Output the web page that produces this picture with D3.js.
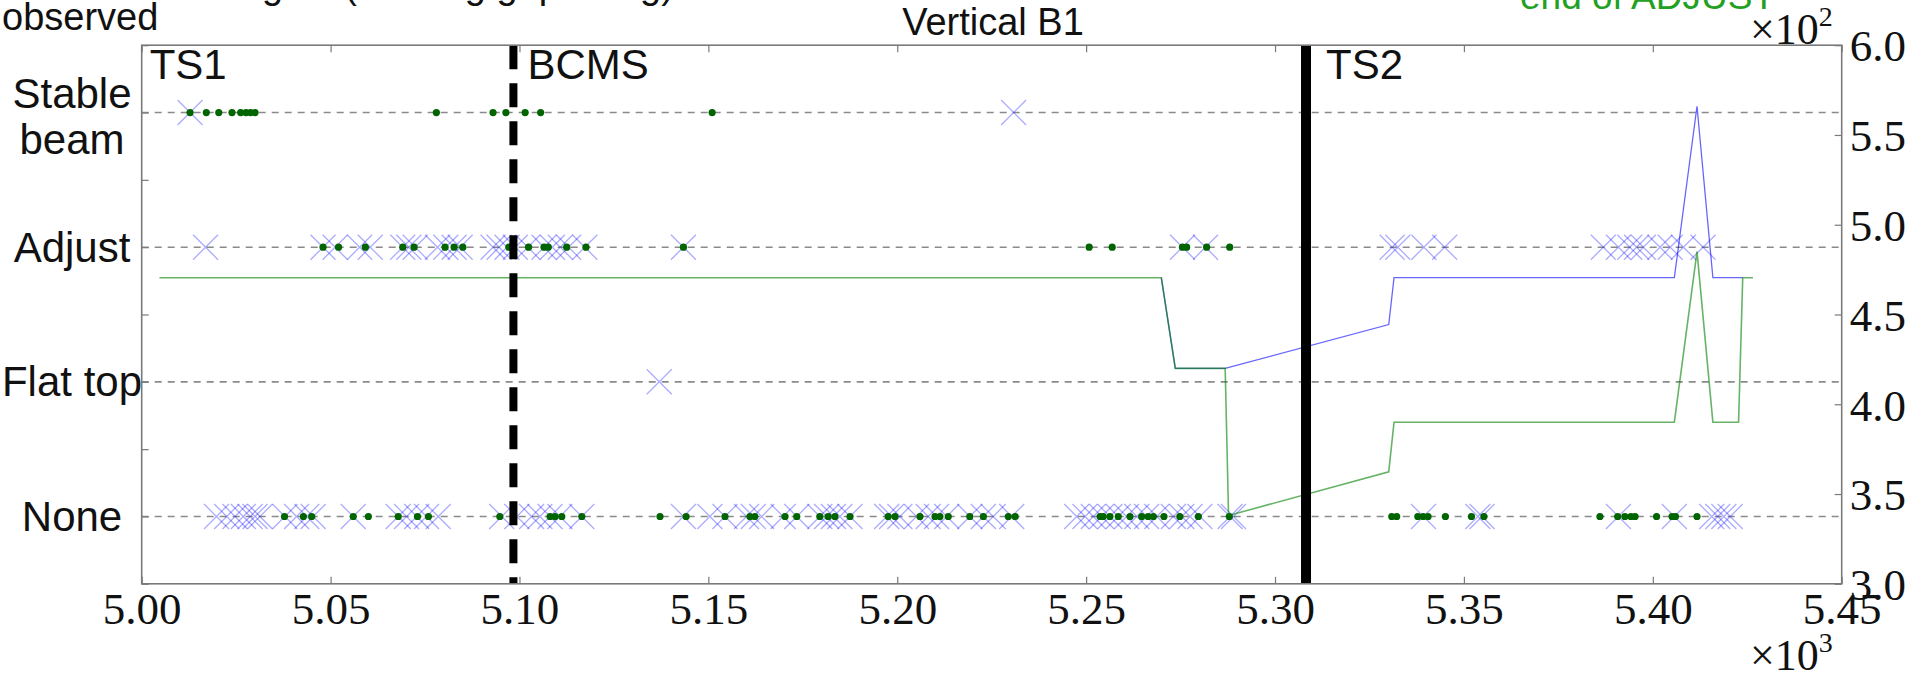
<!DOCTYPE html>
<html>
<head>
<meta charset="utf-8">
<script src="https://cdn.jsdelivr.net/npm/d3@7"></script>
<style>
  html, body { margin: 0; padding: 0; background: #fff; overflow: hidden; }
  svg { display: block; }
</style>
</head>
<body>
<svg id="chart" width="1915" height="677"></svg>
<script>
// ---------------- data ----------------
const categories = ["None", "Flat top", "Adjust", "Stable beam"];
const xTicks = [5000, 5050, 5100, 5150, 5200, 5250, 5300, 5350, 5400, 5450];
const rightTicks = [300, 350, 400, 450, 500, 550, 600];

// blue crosses and green dots, per category level
const stableCross = [5012.8, 5230.8];
const stableDot = [5012.8, 5017.1, 5020.4, 5023.9, 5026.2, 5027.6, 5028.8, 5030.0, 5078.0, 5093.0, 5096.4, 5101.5, 5105.6, 5151.0];
const adjustCross = [5016.9, 5048.0, 5051.2, 5057.7, 5060.5, 5069.1, 5070.7, 5072.4, 5078.3, 5080.5, 5082.7, 5084.3,
  5093.0, 5094.6, 5096.7, 5098.9, 5102.2, 5106.5, 5108.7, 5110.8, 5113.0, 5117.3, 5143.4, 5275.5, 5281.6,
  5331.0, 5332.5, 5339.4, 5344.9, 5386.9, 5390.9, 5393.9, 5395.7, 5397.5, 5401.9, 5404.6, 5408.1, 5413.3];
const adjustDot = [5048.0, 5052.1, 5059.2, 5069.1, 5072.1, 5080.3, 5082.7, 5085.0, 5097.2, 5102.4, 5106.5, 5107.6,
  5112.5, 5117.6, 5143.4, 5250.8, 5256.9, 5275.5, 5276.6, 5281.9, 5288.0];
const flatCross = [5137.0];
const flatDot = [];
const noneCross = [5019.8, 5022.5, 5024.7, 5026.9, 5028.7, 5030.0, 5031.3, 5037.9, 5041.0, 5043.7, 5045.4, 5056.0,
  5067.9, 5070.1, 5072.8, 5075.4, 5078.5, 5095.3, 5099.3, 5103.2, 5105.4, 5108.1, 5110.7,
  5116.5, 5143.4, 5150.4, 5154.4, 5160.1, 5161.9, 5164.1, 5169.8, 5173.4, 5179.5, 5181.3, 5183.1, 5184.8, 5187.5,
  5197.2, 5198.5, 5200.7, 5205.1, 5208.2, 5210.4, 5213.1, 5219.2, 5222.8, 5225.4,
  5230.3, 5247.5, 5249.7, 5251.9, 5254.1, 5256.3, 5258.5, 5260.7, 5263.4, 5266.0, 5268.7, 5273.1, 5275.3, 5277.5,
  5280.1, 5288.1, 5289.0, 5339.3, 5353.7, 5354.8, 5390.9, 5405.7, 5415.6, 5417.2, 5418.8, 5420.5];
const noneDot = [5037.8, 5042.8, 5045.0, 5056.0, 5060.0, 5067.9, 5073.0, 5075.9, 5094.8, 5108.1, 5109.4, 5111.2,
  5116.5, 5137.2, 5144.1, 5154.4, 5161.0, 5162.3, 5170.3, 5173.4, 5179.5, 5181.7, 5183.5, 5187.5, 5197.6, 5199.4,
  5206.0, 5210.0, 5211.3, 5213.5, 5219.2, 5222.8,
  5229.4, 5231.2, 5253.7, 5254.5, 5256.3, 5258.5, 5261.6, 5264.7, 5266.4, 5267.8, 5270.6, 5274.8, 5279.7, 5287.9,
  5330.9, 5332.2, 5337.8, 5339.2, 5340.5, 5345.1, 5352.0, 5355.3, 5386.0, 5390.7, 5392.6, 5394.2, 5395.3,
  5401.0, 5405.1, 5406.0, 5411.7];

// lines on the right axis (x 10^2); the blue one is hidden under the green before 5270
const blueX = [5269.9, 5273.6, 5286.8, 5330.1, 5331.5, 5405.7, 5411.7, 5415.9, 5423.8];
const blueV = [470.5, 420, 420, 444.4, 470.5, 470.5, 566, 470.5, 470.5];
const greenX = [5004.7, 5269.9, 5273.6, 5286.8, 5287.7, 5330.1, 5331.5, 5405.7, 5411.7, 5415.9, 5422.7, 5423.8, 5426.5];
const greenV = [470.5, 470.5, 420, 420, 338, 362.4, 390, 390, 485, 390, 390, 470.5, 470.5];

// vertical event markers
const eventNames = ["TS1", "BCMS", "TS2"];
const eventX = [null, 5098.4, 5308.2];

// ---------------- drawing ----------------
const svg = d3.select("#chart");
const L = 141.7, R = 1841.7, T = 45.2, B = 583.8;

const x = d3.scaleLinear().domain([5000, 5450]).range([L, R]);
const yc = d3.scaleLinear().domain([-0.5, 3.5]).range([B, T]);
const yr = d3.scaleLinear().domain([300, 600]).range([B, T]);

const SANS = "'Liberation Sans', Arial, sans-serif";
const SERIF = "'Liberation Serif', 'Times New Roman', serif";

// top cut-off texts
svg.append("text").attr("x", 150).attr("y", -2).attr("font-family", SANS).attr("font-size", 38)
  .attr("fill", "#111").text("tune signal (missing gap in log)");
svg.append("text").attr("x", 2).attr("y", 30).attr("font-family", SANS).attr("font-size", 38)
  .attr("fill", "#111").text("observed");
svg.append("text").attr("x", 1520).attr("y", 9).attr("font-family", SANS).attr("font-size", 37)
  .attr("fill", "#22a022").text("end of ADJUST");
svg.append("text").attr("x", 993).attr("y", 35).attr("text-anchor", "middle")
  .attr("font-family", SANS).attr("font-size", 38).attr("fill", "#111").text("Vertical B1");

// horizontal dashed grid at category levels
svg.append("g").selectAll("line").data(d3.range(categories.length)).join("line")
  .attr("x1", L).attr("x2", R).attr("y1", d => yc(d)).attr("y2", d => yc(d))
  .attr("stroke", "#8a8a8a").attr("stroke-width", 1.6).attr("stroke-dasharray", "7,6");

// markers
const rows = [
  { lvl: 3, cross: stableCross, dot: stableDot },
  { lvl: 2, cross: adjustCross, dot: adjustDot },
  { lvl: 1, cross: flatCross, dot: flatDot },
  { lvl: 0, cross: noneCross, dot: noneDot }
];
const s = 12.5;
const crossPath = `M${-s},${-s}L${s},${s}M${-s},${s}L${s},${-s}`;
const gc = svg.append("g");
rows.forEach(r => {
  gc.selectAll(null).data(r.cross).join("path")
    .attr("d", crossPath)
    .attr("transform", d => `translate(${x(d)},${yc(r.lvl)})`)
    .attr("fill", "none").attr("stroke", "#0000ff").attr("stroke-opacity", 0.33).attr("stroke-width", 1.3);
});
const gd = svg.append("g");
rows.forEach(r => {
  gd.selectAll(null).data(r.dot).join("circle")
    .attr("cx", d => x(d)).attr("cy", yc(r.lvl)).attr("r", 3.6)
    .attr("fill", "#006400");
});

// lines
const line = d3.line().x(d => x(d[0])).y(d => yr(d[1]));
svg.append("path").datum(d3.zip(blueX, blueV)).attr("d", line)
  .attr("fill", "none").attr("stroke", "#0000ff").attr("stroke-opacity", 0.6).attr("stroke-width", 1.3);
svg.append("path").datum(d3.zip(greenX, greenV)).attr("d", line)
  .attr("fill", "none").attr("stroke", "#008000").attr("stroke-opacity", 0.6).attr("stroke-width", 1.6);

// vertical event lines
svg.append("line").attr("x1", x(eventX[1])).attr("x2", x(eventX[1])).attr("y1", T).attr("y2", B)
  .attr("stroke", "#000").attr("stroke-width", 8).attr("stroke-dasharray", "24,14");
svg.append("line").attr("x1", x(eventX[2])).attr("x2", x(eventX[2])).attr("y1", T).attr("y2", B)
  .attr("stroke", "#000").attr("stroke-width", 10);

// axes frame
const axisColor = "#7a7a7a";
svg.append("rect").attr("x", L).attr("y", T).attr("width", R - L).attr("height", B - T)
  .attr("fill", "none").attr("stroke", axisColor).attr("stroke-width", 1.6);

// bottom axis
const xAxis = d3.axisBottom(x).tickValues(xTicks).tickSize(-7).tickFormat(d => (d / 1000).toFixed(2));
const gx = svg.append("g").attr("transform", `translate(0,${B})`).call(xAxis);
gx.select(".domain").remove();
gx.selectAll(".tick line").attr("stroke", axisColor).attr("stroke-width", 1.2);
gx.selectAll(".tick text").attr("font-family", SERIF).attr("font-size", 45).attr("fill", "#111")
  .attr("y", 40).attr("dy", 0);
// top axis ticks
const gxt = svg.append("g").attr("transform", `translate(0,${T})`)
  .call(d3.axisTop(x).tickValues(xTicks).tickSize(-7).tickFormat(""));
gxt.select(".domain").remove();
gxt.selectAll(".tick line").attr("stroke", axisColor).attr("stroke-width", 1.2);

// left axis: ticks every 0.5, labels at category levels
const gl = svg.append("g").attr("transform", `translate(${L},0)`)
  .call(d3.axisLeft(yc).tickValues(d3.range(-0.5, 3.51, 0.5)).tickSize(-7).tickFormat(""));
gl.select(".domain").remove();
gl.selectAll(".tick line").attr("stroke", axisColor).attr("stroke-width", 1.2);
const catLabels = svg.append("g").attr("font-family", SANS).attr("font-size", 42).attr("fill", "#111")
  .attr("text-anchor", "middle");
categories.forEach((c, i) => {
  const words = c === "Stable beam" ? ["Stable", "beam"] : [c];
  const t = catLabels.append("text").attr("x", 72).attr("y", yc(i))
    .attr("dominant-baseline", "central");
  if (words.length === 1) {
    t.text(c);
  } else {
    t.append("tspan").attr("x", 72).attr("dy", -20).text(words[0]);
    t.append("tspan").attr("x", 72).attr("dy", 46).text(words[1]);
  }
});

// right axis
const gr = svg.append("g").attr("transform", `translate(${R},0)`)
  .call(d3.axisRight(yr).tickValues(rightTicks).tickSize(-7).tickFormat(d => (d / 100).toFixed(1)));
gr.select(".domain").remove();
gr.selectAll(".tick line").attr("stroke", axisColor).attr("stroke-width", 1.2);
gr.selectAll(".tick text").attr("font-family", SERIF).attr("font-size", 45).attr("fill", "#111")
  .attr("x", 8).attr("dy", "0.35em");

// multipliers
function mult(xp, yp, exp) {
  const t = svg.append("text").attr("x", xp).attr("y", yp).attr("font-family", SERIF).attr("font-size", 44)
    .attr("fill", "#111");
  t.append("tspan").text("\u00d710");
  t.append("tspan").attr("font-size", 28).attr("dy", -18).text(exp);
}
mult(1750, 44, "2");
mult(1750, 670, "3");

// event labels
const el = svg.append("g").attr("font-family", SANS).attr("font-size", 42).attr("fill", "#111");
el.append("text").attr("x", L + 8).attr("y", 79).text(eventNames[0]);
el.append("text").attr("x", x(eventX[1]) + 14).attr("y", 79).text(eventNames[1]);
el.append("text").attr("x", x(eventX[2]) + 20).attr("y", 79).text(eventNames[2]);
</script>
</body>
</html>
